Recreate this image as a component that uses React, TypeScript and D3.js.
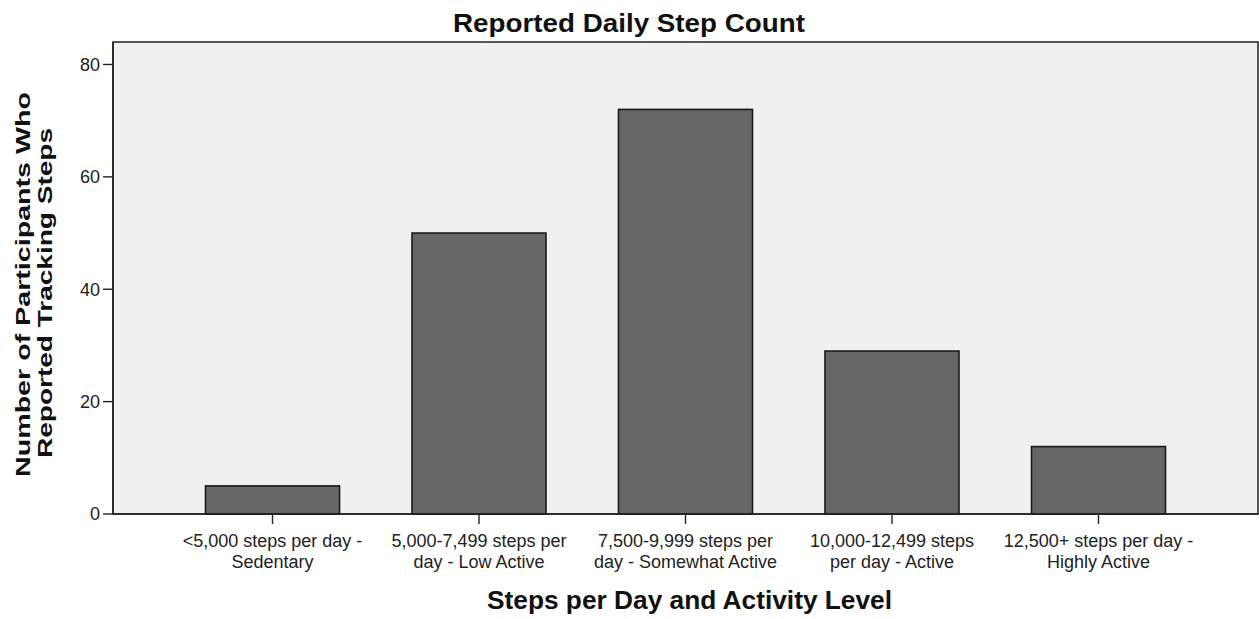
import React from "react";
import * as d3 from "d3";

const categories: string[][] = [
  ["<5,000 steps per day -", "Sedentary"],
  ["5,000-7,499 steps per", "day - Low Active"],
  ["7,500-9,999 steps per", "day - Somewhat Active"],
  ["10,000-12,499 steps", "per day - Active"],
  ["12,500+ steps per day -", "Highly Active"],
];
const counts: number[] = [5, 50, 72, 29, 12];
const yTicks: number[] = [0, 20, 40, 60, 80];
const title = "Reported Daily Step Count";
const xTitle = "Steps per Day and Activity Level";
const yTitle: string[] = ["Number of Participants Who", "Reported Tracking Steps"];

const W = 1259;
const H = 619;
const left = 113;
const right = 1258;
const top = 42;
const bottom = 514;

export default function App() {
  const x = d3
    .scaleBand<number>()
    .domain(d3.range(categories.length))
    .range([left, right])
    .paddingInner(0.351)
    .paddingOuter(0.448);
  const y = d3.scaleLinear().domain([0, 84]).range([bottom, top]);
  const font = "'Liberation Sans', Arial, sans-serif";

  return (
    <svg
      width={W}
      height={H}
      style={{ position: "absolute", left: 0, top: 0, background: "#fff" }}
      fontFamily={font}
    >
      <rect x={left} y={top} width={right - left} height={bottom - top} fill="#f0f0f0" stroke="#222" strokeWidth={1.5} />
      {counts.map((v, i) => (
        <rect
          key={i}
          x={x(i)!}
          y={y(v)}
          width={x.bandwidth()}
          height={y(0) - y(v)}
          fill="#666666"
          stroke="#1a1a1a"
          strokeWidth={1.6}
        />
      ))}
      <line x1={left} x2={left} y1={top} y2={bottom} stroke="#222" strokeWidth={1.6} />
      <line x1={left} x2={right} y1={bottom} y2={bottom} stroke="#222" strokeWidth={1.6} />
      {yTicks.map((t) => (
        <g key={t}>
          <line x1={left - 10} x2={left} y1={y(t)} y2={y(t)} stroke="#222" strokeWidth={1.4} />
          <text x={left - 13} y={y(t)} dy="0.36em" textAnchor="end" fontSize={18} fill="#222">
            {t}
          </text>
        </g>
      ))}
      {categories.map((lines, i) => {
        const cx = x(i)! + x.bandwidth() / 2;
        return (
          <g key={i}>
            <line x1={cx} x2={cx} y1={bottom} y2={bottom + 10} stroke="#222" strokeWidth={1.4} />
            {lines.map((l, j) => (
              <text key={j} x={cx} y={547 + j * 21} textAnchor="middle" fontSize={18} fill="#222">
                {l}
              </text>
            ))}
          </g>
        );
      })}
      <text
        x={629}
        y={32}
        textAnchor="middle"
        fontSize={26}
        fontWeight="bold"
        fill="#111"
        textLength={352}
        lengthAdjust="spacingAndGlyphs"
      >
        {title}
      </text>
      <text
        x={689.5}
        y={609}
        textAnchor="middle"
        fontSize={26}
        fontWeight="bold"
        fill="#111"
        textLength={405}
        lengthAdjust="spacingAndGlyphs"
      >
        {xTitle}
      </text>
      {yTitle.map((l, j) => (
        <text
          key={j}
          transform={`translate(${30 + j * 22},${j === 0 ? 284.5 : 293}) rotate(-90)`}
          textAnchor="middle"
          fontSize={21}
          fontWeight="bold"
          fill="#111"
          textLength={j === 0 ? 385 : 330}
          lengthAdjust="spacingAndGlyphs"
        >
          {l}
        </text>
      ))}
    </svg>
  );
}
